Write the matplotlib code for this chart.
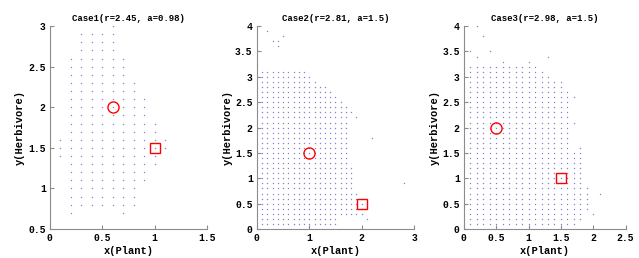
import numpy as np
import matplotlib
matplotlib.use("Agg")
import matplotlib.pyplot as plt

# ---- data: grid columns (x) with lowest / highest y of the dots, plus stray dots
case1_x = [0.1, 0.2, 0.3, 0.4, 0.5, 0.6, 0.7, 0.8, 0.9, 1.0, 1.1]
case1_lo = [1.4, 0.7, 0.8, 0.8, 0.8, 0.8, 0.7, 0.8, 1.1, 1.3, 1.5]
case1_hi = [1.6, 2.6, 2.9, 2.9, 2.9, 3.0, 2.6, 2.3, 2.1, 1.8, 1.6]
case1_extra = []
case1_circle = (0.6, 2.0)
case1_square = (1.0, 1.5)

case2_x = [0.1, 0.2, 0.3, 0.4, 0.5, 0.6, 0.7, 0.8, 0.9, 1.0, 1.1,
           1.2, 1.3, 1.4, 1.5, 1.6, 1.7, 1.8, 1.9, 2.0, 2.1]
case2_lo = [0.1, 0.1, 0.1, 0.1, 0.1, 0.1, 0.1, 0.1, 0.1, 0.1, 0.1,
            0.1, 0.1, 0.1, 0.1, 0.3, 0.3, 0.3, 0.3, 0.3, 0.2]
case2_hi = [3.1, 3.1, 3.1, 3.1, 3.1, 3.1, 3.1, 3.1, 3.1, 3.0, 2.9,
            2.8, 2.8, 2.7, 2.6, 2.5, 2.4, 1.2, 0.7, 0.6, 0.2]
case2_extra = [(0.2, 3.9), (0.3, 3.7), (0.4, 3.7), (0.4, 3.6), (0.5, 3.8),
               (1.8, 2.3), (1.9, 2.2), (2.2, 1.8), (2.8, 0.9)]
case2_circle = (1.0, 1.5)
case2_square = (2.0, 0.5)

case3_x = [0.1, 0.2, 0.3, 0.4, 0.5, 0.6, 0.7, 0.8, 0.9, 1.0, 1.1,
           1.2, 1.3, 1.4, 1.5, 1.6, 1.7, 1.8, 1.9]
case3_lo = [0.1, 0.1, 0.1, 0.1, 0.1, 0.1, 0.1, 0.1, 0.1, 0.1, 0.1,
            0.1, 0.1, 0.1, 0.1, 0.1, 0.1, 0.2, 0.4]
case3_hi = [3.2, 3.2, 3.2, 3.2, 3.2, 3.2, 3.2, 3.2, 3.2, 3.2, 3.2,
            3.1, 3.0, 2.9, 2.9, 2.7, 1.5, 1.6, 0.8]
case3_extra = [(0.1, 3.5), (0.2, 4.0), (0.3, 3.8), (0.2, 3.4), (0.4, 3.5),
               (0.6, 3.3), (1.0, 3.3), (1.3, 3.4), (1.7, 2.6), (1.7, 2.1),
               (2.0, 0.3), (2.1, 0.7)]
case3_circle = (0.5, 2.0)
case3_square = (1.5, 1.0)

titles = ["Case1(r=2.45, a=0.98)", "Case2(r=2.81, a=1.5)", "Case3(r=2.98, a=1.5)"]
xlims = [(0, 1.5), (0, 3), (0, 2.5)]
ylims = [(0.5, 3), (0, 4), (0, 4)]
xticks = [[0, 0.5, 1, 1.5], [0, 1, 2, 3], [0, 0.5, 1, 1.5, 2, 2.5]]
yticks = [[0.5, 1, 1.5, 2, 2.5, 3], np.arange(0, 4.01, 0.5), np.arange(0, 4.01, 0.5)]

cases = [
    (case1_x, case1_lo, case1_hi, case1_extra, case1_circle, case1_square),
    (case2_x, case2_lo, case2_hi, case2_extra, case2_circle, case2_square),
    (case3_x, case3_lo, case3_hi, case3_extra, case3_circle, case3_square),
]

plt.rcParams['font.family'] = ['Liberation Mono', 'DejaVu Sans Mono']
plt.rcParams['font.weight'] = 'bold'
plt.rcParams['font.size'] = 7

fig = plt.figure(figsize=(6.39, 2.58), dpi=100)
lefts = [0.078, 0.402, 0.726]
widths = [0.246, 0.246, 0.253]

for i, (cx, lo, hi, extra, circ, sq) in enumerate(cases):
    ax = fig.add_axes([lefts[i], 0.112, widths[i], 0.787])
    px, py = [], []
    for x, a, b in zip(cx, lo, hi):
        n = int(round((b - a) / 0.1)) + 1
        for k in range(n):
            px.append(x)
            py.append(a + 0.1 * k)
    for x, y in extra:
        px.append(x)
        py.append(y)
    ax.scatter(px, py, s=1.0, color=(0.5, 0.5, 0.85), linewidths=0, zorder=2)
    ax.plot(*circ, marker='o', ms=8, mfc='none', mec='red', mew=1.0, zorder=3)
    ax.plot(*sq, marker='s', ms=7.5, mfc='none', mec='red', mew=1.0, zorder=3)

    ax.set_xlim(*xlims[i])
    ax.set_ylim(*ylims[i])
    ax.set_xticks(xticks[i])
    ax.set_yticks(yticks[i])
    ax.set_xticklabels(['%g' % v for v in xticks[i]])
    ax.set_yticklabels(['%g' % v for v in yticks[i]])
    for s in ['top', 'right']:
        ax.spines[s].set_visible(False)
    for s in ['left', 'bottom']:
        ax.spines[s].set_color('0.55')
        ax.spines[s].set_linewidth(0.8)
    ax.tick_params(direction='in', length=3, width=0.8, color='0.55',
                   labelsize=7, pad=3)
    ax.set_title(titles[i], fontsize=6.5, fontweight='bold', pad=4)
    ax.set_xlabel('x(Plant)', fontsize=7.5, fontweight='bold', labelpad=2)
    ax.set_ylabel('y(Herbivore)', fontsize=7.5, fontweight='bold', labelpad=2)

fig.savefig('out.png', dpi=100)
